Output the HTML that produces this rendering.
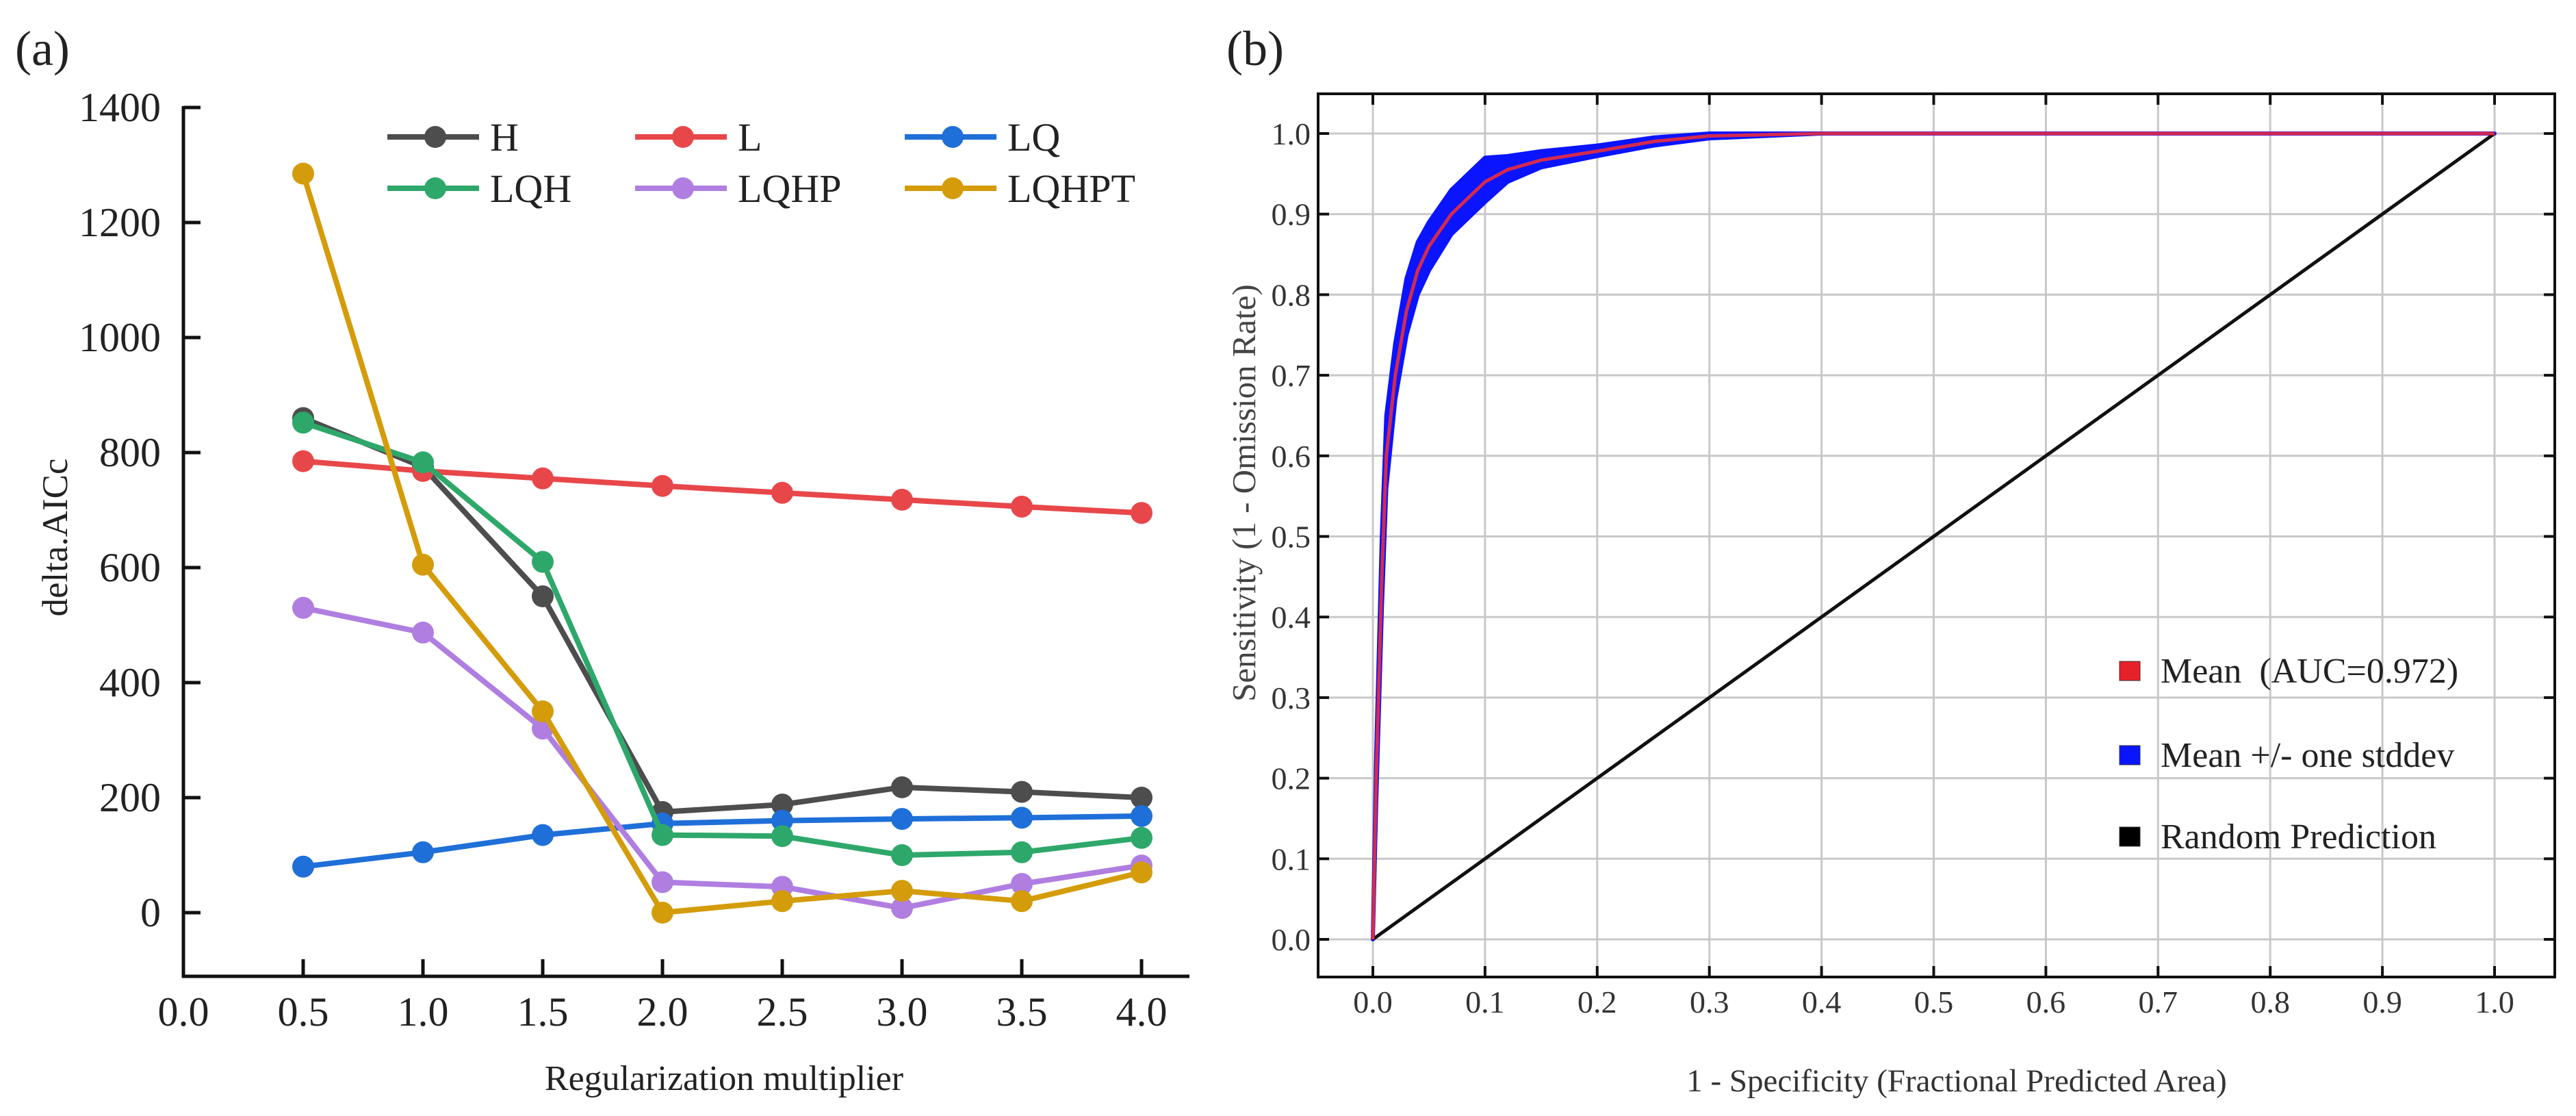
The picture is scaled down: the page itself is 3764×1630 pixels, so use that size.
<!DOCTYPE html>
<html><head><meta charset="utf-8">
<style>
html,body{margin:0;padding:0;background:#fff;}
svg{display:block;font-family:"Liberation Serif",serif;}
</style></head>
<body>
<svg id="fig" width="3764" height="1630" viewBox="0 0 3764 1630" xmlns="http://www.w3.org/2000/svg">
<g id="pa"></g>
<g id="pb"></g>
</svg>
<script>
// ---------- Panel (a) data ----------
const aX = [0.5, 1.0, 1.5, 2.0, 2.5, 3.0, 3.5, 4.0];
const aXTicks = ["0.0","0.5","1.0","1.5","2.0","2.5","3.0","3.5","4.0"];
const aYTicks = [0, 200, 400, 600, 800, 1000, 1200, 1400];
const seriesNames = ["H","L","LQ","LQH","LQHP","LQHPT"];
const seriesColors = ["#4d4d4d","#e8474a","#1f6fd8","#2ea86a","#b07ee0","#d49c0a"];
const valH = [860, 775, 550, 175, 188, 218, 210, 200];
const valL = [785, 768, 755, 742, 730, 718, 706, 695];
const valLQ = [80, 105, 135, 155, 160, 163, 165, 168];
const valLQH = [852, 783, 610, 135, 133, 100, 105, 130];
const valLQHP = [530, 487, 320, 53, 45, 8, 50, 82];
const valLQHPT = [1285, 605, 350, 0, 20, 38, 20, 70];

// ---------- Panel (b) data ----------
const bTicks = [0,0.1,0.2,0.3,0.4,0.5,0.6,0.7,0.8,0.9,1.0];
const rocFpr  = [0, 0.003, 0.008, 0.012, 0.02, 0.03, 0.04, 0.05, 0.07, 0.1, 0.12, 0.15, 0.2, 0.25, 0.3, 0.4, 1.0];
const rocMean = [0, 0.2, 0.45, 0.6, 0.7, 0.78, 0.83, 0.86, 0.9, 0.94, 0.955, 0.967, 0.978, 0.99, 0.997, 1.0, 1.0];
const rocUpper= [0, 0.23, 0.5, 0.65, 0.74, 0.82, 0.865, 0.89, 0.93, 0.97, 0.972, 0.978, 0.985, 0.995, 1.0, 1.0, 1.0];
const rocLower= [0, 0.17, 0.41, 0.56, 0.67, 0.75, 0.8, 0.83, 0.875, 0.915, 0.94, 0.958, 0.972, 0.985, 0.994, 1.0, 1.0];

const NS="http://www.w3.org/2000/svg";
function mk(tag, attrs, parent){const e=document.createElementNS(NS,tag);for(const k in attrs)e.setAttribute(k,attrs[k]);parent.appendChild(e);return e;}

// ---------- Panel (a) ----------
const pa=document.getElementById('pa');
const ax=v=>268+350*v;
const ay=v=>1333-0.84*v;
let t=mk('text',{x:22,y:95,'font-size':72,fill:'#222'},pa);t.textContent='(a)';


let l=mk('line',{x1:268,y1:155,x2:268,y2:1428,stroke:'#111','stroke-width':5},pa);


l=mk('line',{x1:266,y1:1426,x2:1738,y2:1426,stroke:'#111','stroke-width':5},pa);


aYTicks.forEach(v=>{
  mk('line',{x1:268,y1:ay(v),x2:293,y2:ay(v),stroke:'#111','stroke-width':5},pa);
  const tt=mk('text',{x:235,y:ay(v)+20,'text-anchor':'end','font-size':60,fill:'#222'},pa);tt.textContent=v;
  
  
});
aXTicks.forEach(s=>{
  const v=parseFloat(s);
  mk('line',{x1:ax(v),y1:1426,x2:ax(v),y2:1401,stroke:'#111','stroke-width':5},pa);
  const tt=mk('text',{x:ax(v),y:1498,'text-anchor':'middle','font-size':60,fill:'#222'},pa);tt.textContent=s;
  
  
});
t=mk('text',{x:1058,y:1592,'text-anchor':'middle','font-size':52,fill:'#222'},pa);t.textContent='Regularization multiplier';


t=mk('text',{x:0,y:0,'text-anchor':'middle','font-size':53,fill:'#222',transform:'translate(98,785) rotate(-90)'},pa);t.textContent='delta.AICc';


const allVals=[valH,valL,valLQ,valLQH,valLQHP,valLQHPT];
allVals.forEach((vals,i)=>{
  const g=mk('g',{},pa);
  
  
  const pts=vals.map((v,j)=>ax(aX[j])+','+ay(v)).join(' ');
  mk('polyline',{points:pts,fill:'none',stroke:seriesColors[i],'stroke-width':8,'stroke-linejoin':'round'},g);
  vals.forEach((v,j)=>{
    const c=mk('circle',{cx:ax(aX[j]),cy:ay(v),r:16,fill:seriesColors[i]},g);
    
    
  });
});
// legend a
const legX=[566,928,1322], legY=[200,275];
seriesNames.forEach((n,i)=>{
  const x=legX[i%3], y=legY[Math.floor(i/3)];
  const g=mk('g',{},pa);
  
  
  mk('line',{x1:x,y1:y,x2:x+134,y2:y,stroke:seriesColors[i],'stroke-width':8},g);
  mk('circle',{cx:x+70,cy:y,r:16,fill:seriesColors[i]},g);
  const tt=mk('text',{x:x+150,y:y+20,'font-size':58,fill:'#222'},g);tt.textContent=n;
});

// ---------- Panel (b) ----------
const pb=document.getElementById('pb');
const bx=v=>2006+1639*v;
const by=v=>1372-1177*v;
const FL=1926, FT=137, FR=3733, FB=1427;
t=mk('text',{x:1792,y:95,'font-size':72,fill:'#222'},pb);t.textContent='(b)';


bTicks.forEach(v=>{
  mk('line',{x1:bx(v),y1:FT,x2:bx(v),y2:FB,stroke:'#c8c8c8','stroke-width':3},pb);
  mk('line',{x1:FL,y1:by(v),x2:FR,y2:by(v),stroke:'#c8c8c8','stroke-width':3},pb);
  mk('line',{x1:bx(v),y1:FT,x2:bx(v),y2:FT+16,stroke:'#111','stroke-width':4},pb);
  mk('line',{x1:bx(v),y1:FB,x2:bx(v),y2:FB-16,stroke:'#111','stroke-width':4},pb);
  mk('line',{x1:FL,y1:by(v),x2:FL+16,y2:by(v),stroke:'#111','stroke-width':4},pb);
  mk('line',{x1:FR,y1:by(v),x2:FR-16,y2:by(v),stroke:'#111','stroke-width':4},pb);
  let tt=mk('text',{x:1915,y:by(v)+16,'text-anchor':'end','font-size':46,fill:'#333'},pb);tt.textContent=v.toFixed(1);
  
  
  tt=mk('text',{x:bx(v),y:1479,'text-anchor':'middle','font-size':46,fill:'#333'},pb);tt.textContent=v.toFixed(1);
  
  
});
let fr=mk('rect',{x:FL,y:FT,width:FR-FL,height:FB-FT,fill:'none',stroke:'#111','stroke-width':4},pb);


// band
const bandPts=rocFpr.map((f,i)=>bx(f)+','+by(rocUpper[i])).concat(rocFpr.map((f,i)=>bx(f)+','+by(rocLower[i])).reverse()).join(' ');
let band=mk('polygon',{points:bandPts,fill:'#0a14ff',stroke:'#0a14ff','stroke-width':6,'stroke-linejoin':'round'},pb);


let diag=mk('line',{x1:bx(0),y1:by(0),x2:bx(1),y2:by(1),stroke:'#111','stroke-width':5},pb);


let mean=mk('polyline',{points:rocFpr.map((f,i)=>bx(f)+','+by(rocMean[i])).join(' '),fill:'none',stroke:'#d42a4e','stroke-width':5,'stroke-linejoin':'round'},pb);


t=mk('text',{x:2859,y:1594,'text-anchor':'middle','font-size':47,fill:'#333'},pb);t.textContent='1 - Specificity (Fractional Predicted Area)';


t=mk('text',{x:0,y:0,'text-anchor':'middle','font-size':49,fill:'#444',transform:'translate(1834,720) rotate(-90)'},pb);t.textContent='Sensitivity (1 - Omission Rate)';


const bLegNames=["Mean\u00a0\u00a0(AUC=0.972)","Mean +/- one stddev","Random Prediction"];
const bLegColors=["#e8202a","#0a14ff","#000"];
const bLegY=[980,1103,1222];
bLegNames.forEach((n,i)=>{
  const g=mk('g',{},pb);
  
  
  mk('rect',{x:3097,y:bLegY[i]-14,width:30,height:28,fill:bLegColors[i],stroke:'#333','stroke-width':1},g);
  const tt=mk('text',{x:3157,y:bLegY[i]+17,'font-size':52,fill:'#222'},g);tt.textContent=n;
});
</script>
</body></html>
